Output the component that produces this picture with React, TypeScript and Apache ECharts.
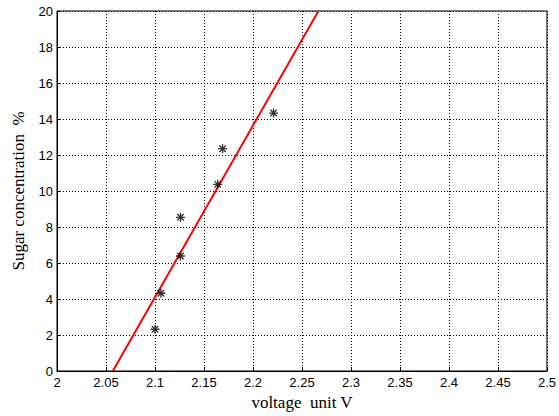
import React, { useEffect, useRef } from "react";
import * as echarts from "echarts";

const voltage = [2.1, 2.106, 2.126, 2.126, 2.164, 2.169, 2.221];
const sugar = [2.32, 4.32, 6.39, 8.54, 10.37, 12.35, 14.33];
const fitVoltage = [2.057, 2.2668];
const fitSugar = [0, 20];

const asterisk =
  "path://M0 -5 L0 5 M-5 0 L5 0 M-3.6 -3.6 L3.6 3.6 M-3.6 3.6 L3.6 -3.6";

export default function App() {
  const ref = useRef<HTMLDivElement>(null);
  useEffect(() => {
    if (!ref.current) return;
    const chart = echarts.init(ref.current, null, { renderer: "svg" });
    const tickFont = { fontFamily: "Liberation Sans", fontSize: 13, color: "#000" };
    chart.setOption({
      animation: false,
      backgroundColor: "#fff",
      grid: {
        left: 57,
        top: 11,
        right: 10,
        bottom: 45,
        show: true,
        borderColor: "#000",
        borderWidth: 1,
      },
      xAxis: {
        type: "value",
        min: 2,
        max: 2.5,
        interval: 0.05,
        name: "voltage  unit V",
        nameLocation: "middle",
        nameGap: 23,
        nameTextStyle: { fontFamily: "Liberation Serif", fontSize: 17, color: "#000" },
        axisLine: { lineStyle: { color: "#000" } },
        axisTick: { inside: true, length: 4, lineStyle: { color: "#000" } },
        axisLabel: { ...tickFont, margin: 5 },
        splitLine: { show: true, lineStyle: { color: "#000", type: [1, 2], width: 1 } },
      },
      yAxis: {
        type: "value",
        min: 0,
        max: 20,
        interval: 2,
        name: "Sugar concentration  %",
        nameLocation: "middle",
        nameGap: 30,
        nameTextStyle: { fontFamily: "Liberation Serif", fontSize: 17, color: "#000" },
        axisLine: { lineStyle: { color: "#000" } },
        axisTick: { inside: true, length: 4, lineStyle: { color: "#000" } },
        axisLabel: { ...tickFont, margin: 4 },
        splitLine: { show: true, lineStyle: { color: "#000", type: [1, 2], width: 1 } },
      },
      series: [
        {
          type: "line",
          data: fitVoltage.map((v, i) => [v, fitSugar[i]]),
          showSymbol: false,
          lineStyle: { color: "#ff0000", width: 2 },
          silent: true,
          z: 3,
        },
        {
          type: "scatter",
          data: voltage.map((v, i) => [v, sugar[i]]),
          symbol: asterisk,
          symbolSize: 9,
          itemStyle: { color: "#000", borderColor: "#000", borderWidth: 1.3 },
          z: 4,
        },
      ],
    });
    return () => chart.dispose();
  }, []);
  return <div ref={ref} style={{ width: 559, height: 416, position: "absolute", left: 0, top: 0 }} />;
}
